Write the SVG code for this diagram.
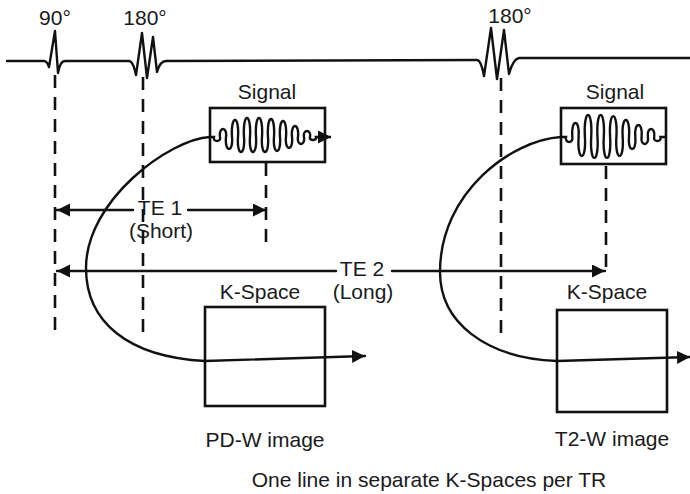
<svg xmlns="http://www.w3.org/2000/svg" width="690" height="494" viewBox="0 0 690 494">
<style>
text{font-family:"Liberation Sans",Arial,sans-serif;font-size:21px;fill:#1a1a1a;text-anchor:middle}
.ln{fill:none;stroke:#111;stroke-width:2.4;stroke-linejoin:round;stroke-linecap:round}
.dash{fill:none;stroke:#111;stroke-width:2.6;stroke-dasharray:13 9}
.box{fill:none;stroke:#111;stroke-width:2.6}
.wave{fill:none;stroke:#111;stroke-width:2.4}
</style>
<defs>
<marker id="ah" markerUnits="userSpaceOnUse" markerWidth="14" markerHeight="14" refX="13" refY="6.5" orient="auto-start-reverse" viewBox="0 0 14 14">
<path d="M0,0 L13,6.5 L0,13 z" fill="#111"/>
</marker>
</defs>
<g id="pulse-sequence">
<path class="ln" d="M7,61 L44,61 Q47,61 49,67 L55,31 L58,73 Q60,61 65,61 L129,61 Q133,61 136,75 L142,33 L147,78 L153,37 L157,72 Q160,61 166,61 L477,60 Q481,60 484,76 L491,28 L497,79 L504,30 L509,74 Q513,59 519,58 L690,58"/>
<text x="55" y="25">90°</text>
<text x="145" y="25">180°</text>
<text x="510" y="23">180°</text>
</g>
<g id="signal-1">
<rect class="box" x="210" y="108" width="115" height="54"/>
<text x="267" y="99">Signal</text>
<path class="wave" d="M210,137 L214,137 C212.5,142.3 221.5,142.3 220,137 C218.5,126.4 227.5,126.4 226,137 C224.5,153 233.5,153 232,137 C230.5,114.4 239.5,114.4 238,137 C236.5,157 245.5,157 244,137 C242.5,111.7 251.5,111.7 250,137 C248.5,157 257.5,157 256,137 C254.5,111.7 263.5,111.7 262,137 C260.5,157 269.5,157 268,137 C266.5,113 275.5,113 274,137 C272.5,155.6 281.5,155.6 280,137 C278.5,115.7 287.5,115.7 286,137 C284.5,151.6 293.5,151.6 292,137 C290.5,122.4 299.5,122.4 298,137 C296.5,146.3 305.5,146.3 304,137 C302.5,129 311.5,129 310,137 C308.5,141 317.5,141 316,137 L331,137" marker-end="url(#ah)"/>
</g>
<g id="signal-2">
<rect class="box" x="561" y="108" width="105" height="56"/>
<text x="615" y="99">Signal</text>
<path class="wave" d="M561,137 L566,137 C564.4,143.7 573.9,143.7 572.3,137 C570.7,118.4 580.2,118.4 578.6,137 C577,162.3 586.5,162.3 584.9,137 C583.3,107.7 592.8,107.7 591.2,137 C589.6,164.9 599.1,164.9 597.5,137 C595.9,107.7 605.4,107.7 603.8,137 C602.2,164.9 611.7,164.9 610.1,137 C608.5,109.1 618,109.1 616.4,137 C614.8,162.3 624.3,162.3 622.7,137 C621.1,114.4 630.6,114.4 629,137 C627.4,153 636.9,153 635.3,137 C633.7,121 643.2,121 641.6,137 C640,146.3 649.5,146.3 647.9,137 C646.3,126.4 655.8,126.4 654.2,137 C652.6,142.3 662.1,142.3 660.5,137 L666,137"/>
</g>
<g id="kspace-1">
<rect class="box" x="205" y="307" width="120" height="99"/>
<text x="260" y="299">K-Space</text>
<text x="265" y="447">PD-W image</text>
</g>
<g id="kspace-2">
<rect class="box" x="557" y="310" width="110" height="102"/>
<text x="607" y="299">K-Space</text>
<text x="612" y="446">T2-W image</text>
</g>
<g id="te-labels">
<text x="160" y="215">TE 1</text>
<text x="161" y="238">(Short)</text>
<text x="362" y="276">TE 2</text>
<text x="363" y="299">(Long)</text>
</g>
<g id="connectors">
<line class="dash" x1="55" y1="75" x2="55" y2="335"/>
<line class="dash" x1="143" y1="77" x2="143" y2="332"/>
<line class="dash" x1="501" y1="78" x2="501" y2="338"/>
<line class="dash" x1="266" y1="163" x2="266" y2="243"/>
<line class="dash" x1="606" y1="166" x2="606" y2="270"/>
<line class="ln" x1="57" y1="210" x2="133" y2="210" marker-start="url(#ah)"/>
<line class="ln" x1="188" y1="210" x2="266" y2="210" marker-end="url(#ah)"/>
<line class="ln" x1="57" y1="271" x2="336" y2="271" marker-start="url(#ah)"/>
<line class="ln" x1="392" y1="271" x2="605" y2="271" marker-end="url(#ah)"/>
<path class="ln" d="M210,137 C170,139 86,200 86,268 C86,322 128,357 205,361 L365,356" marker-end="url(#ah)"/>
<path class="ln" d="M561,137 C512,140 440,192 440,272 C440,322 485,358 557,361 L690,357" marker-end="url(#ah)"/>
</g>
<text x="429" y="487">One line in separate K-Spaces per TR</text>
</svg>
